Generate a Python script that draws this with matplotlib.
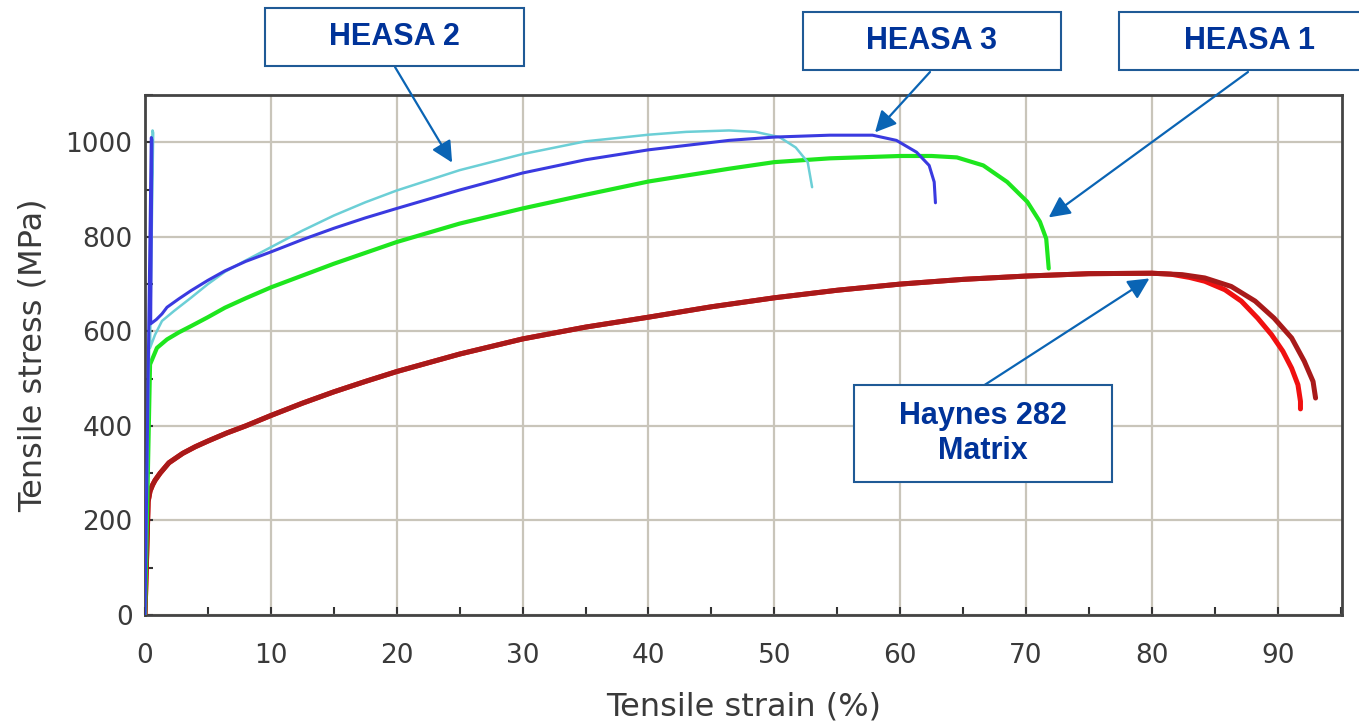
import matplotlib
matplotlib.use('Agg')
import matplotlib.pyplot as plt
import matplotlib.ticker as ticker
from matplotlib.patches import Rectangle

# Haynes 282 matrix: shared part of the two tests, then the two separate tails
haynes_common_strain = [0, 0.25, 0.4, 0.6, 0.8, 1.2, 1.9, 3, 4, 5, 6.5, 8, 10, 12.5, 15, 17.5,
                        20, 25, 30, 35, 40, 45, 50, 55, 60, 65, 70, 75, 80]
haynes_common_stress = [0, 240, 262, 275, 285, 300, 322, 342, 356, 368, 385, 400, 422, 448, 472, 494,
                        515, 552, 584, 609, 630, 652, 671, 687, 700, 710, 717, 722, 723]
haynes_a_tail_strain = [81.5, 83, 84.2, 85.8, 87.1, 88.4, 89.5, 90.4, 91.1, 91.6, 91.8, 91.8]
haynes_a_tail_stress = [721, 714, 706, 688, 664, 628, 593, 558, 522, 487, 452, 436]
haynes_b_tail_strain = [82.4, 84.2, 86.3, 88.2, 89.7, 91.1, 92.1, 92.8, 93.0]
haynes_b_tail_stress = [720, 713, 695, 664, 628, 586, 537, 494, 459]

heasa1_strain = [0, 0.4, 0.95, 1.75, 2.7, 3.65, 5, 6.35, 8, 10, 12.5, 15, 17.5, 20, 25, 30,
                 35, 40, 46.4, 50, 54.4, 60, 62.5, 64.5, 66.6, 68.5, 70.1, 71.1, 71.6, 71.8]
heasa1_stress = [0, 530, 565, 583, 598, 611, 630, 650, 670, 693, 718, 743, 766, 789, 828, 860,
                 889, 917, 944, 958, 966, 971, 971, 968, 951, 916, 874, 832, 796, 733]

heasa3_strain = [0, 0.5, 0.55, 0.45, 0.9, 1.35, 1.75, 2.7, 3.65, 5, 6.35, 8, 10, 12.5, 15, 17.5,
                 20, 25, 30, 35, 40, 46.4, 50, 54.4, 57.8, 59.7, 61.3, 62.3, 62.7, 62.8]
heasa3_stress = [0, 1010, 1005, 616, 625, 637, 651, 669, 686, 708, 728, 748, 768, 794, 818, 840,
                 860, 899, 935, 963, 984, 1004, 1011, 1015, 1015, 1004, 979, 951, 916, 872]

heasa2_strain = [0, 0.6, 0.65, 0.4, 0.8, 1.35, 2.3, 3.65, 5, 6.35, 8, 10, 12.5, 15, 17.5, 20,
                 25, 30, 35, 40, 43, 46.4, 48.5, 50.4, 51.7, 52.65, 53]
heasa2_stress = [0, 1025, 1020, 565, 593, 622, 643, 671, 700, 726, 750, 778, 813, 845, 873, 898,
                 941, 975, 1002, 1016, 1022, 1025, 1022, 1011, 989, 958, 905]

x_ticks = [0, 10, 20, 30, 40, 50, 60, 70, 80, 90]
y_ticks = [0, 200, 400, 600, 800, 1000]

W, H = 1359, 722


def px_box(x0, y0, x1, y1):
    # pixel rectangle (top-left origin) -> figure fraction
    return x0 / W, 1 - y1 / H, (x1 - x0) / W, (y1 - y0) / H


def px_pt(x, y):
    return x / W, 1 - y / H


plt.rcParams['font.family'] = 'DejaVu Sans'
fig = plt.figure(figsize=(W / 100, H / 100), dpi=100)
ax = fig.add_axes([145 / W, 1 - 615 / H, (1342 - 145) / W, (615 - 95) / H])

haynes_a_strain = haynes_common_strain + haynes_a_tail_strain
haynes_a_stress = haynes_common_stress + haynes_a_tail_stress
haynes_b_strain = haynes_common_strain + haynes_b_tail_strain
haynes_b_stress = haynes_common_stress + haynes_b_tail_stress

line_kw = dict(solid_capstyle='round', solid_joinstyle='round')
ax.plot(haynes_a_strain, haynes_a_stress, color='#F01010', lw=3.6, zorder=3, **line_kw)
ax.plot(haynes_b_strain, haynes_b_stress, color='#A81A1A', lw=3.6, zorder=3, **line_kw)
ax.plot(heasa1_strain, heasa1_stress, color='#1EE61E', lw=3.0, zorder=4, **line_kw)
ax.plot(heasa2_strain, heasa2_stress, color='#6CCFD6', lw=1.8, zorder=5, **line_kw)
ax.plot(heasa3_strain, heasa3_stress, color='#3A3AE0', lw=2.2, zorder=6, **line_kw)

ax.set_xlim(0, 95.1)
ax.set_ylim(0, 1100)
ax.set_xticks(x_ticks)
ax.set_yticks(y_ticks)
ax.xaxis.set_minor_locator(ticker.MultipleLocator(5))
ax.yaxis.set_minor_locator(ticker.MultipleLocator(100))
ax.grid(True, which='major', color='#C9C5BA', lw=1.6)
ax.set_axisbelow(True)
ax.tick_params(which='both', direction='in', length=6, width=1.5, color='#333333',
               labelsize=19, labelcolor='#3A3A3A')
ax.tick_params(axis='x', pad=20)
ax.tick_params(axis='y', pad=9)
for s in ax.spines.values():
    s.set_color('#444444')
    s.set_linewidth(2)

ax.set_xlabel('Tensile strain (%)', fontsize=23, color='#3A3A3A', labelpad=16)
ax.set_ylabel('Tensile stress (MPa)', fontsize=23, color='#3A3A3A', labelpad=12)

# callout boxes with arrows
box_font = dict(family='Liberation Sans', weight='bold', size=22, color='#003399')
callouts = [
    ('HEASA 2', (265, 8, 524, 66), (395, 67), (24.4, 957)),
    ('HEASA 3', (803, 12, 1061, 70), (930, 72), (58.0, 1021)),
    ('HEASA 1', (1119, 12, 1380, 70), (1248, 72), (71.8, 841)),
    ('Haynes 282\nMatrix', (854, 385, 1112, 482), (983, 386), (79.8, 712)),
]
for label, box, start, tip in callouts:
    l, b, w, h = px_box(*box)
    fig.patches.append(Rectangle((l, b), w, h, transform=fig.transFigure, fill=True,
                                 facecolor='white', edgecolor='#1F5A96', lw=1.5, zorder=10))
    fig.text(l + w / 2, b + h / 2, label, ha='center', va='center', linespacing=1.25,
             zorder=11, **box_font)
    ax.annotate('', xy=tip, xycoords='data', xytext=px_pt(*start), textcoords='figure fraction',
                arrowprops=dict(arrowstyle='-|>', color='#0A64B4', lw=1.6, mutation_scale=32,
                                shrinkA=0, shrinkB=0),
                annotation_clip=False, zorder=12)

fig.savefig('out.png', dpi=100)
